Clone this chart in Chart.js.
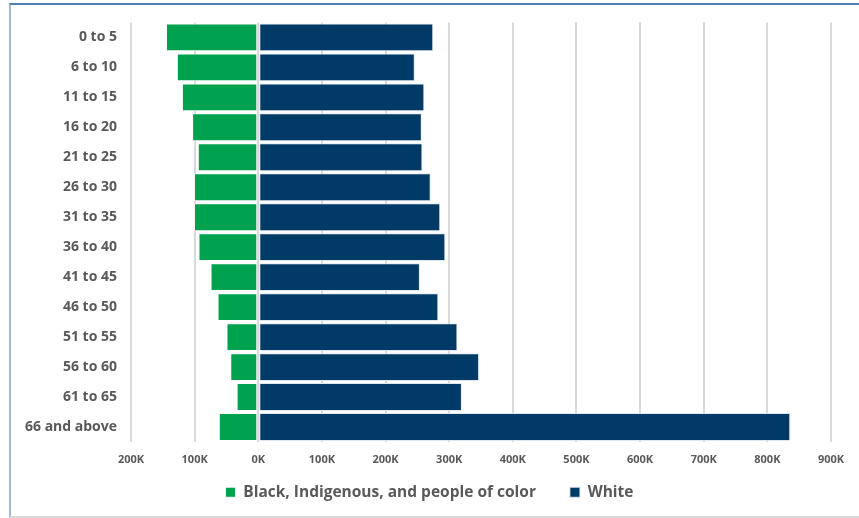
<!DOCTYPE html>
<html>
<head>
<meta charset="utf-8">
<script src="https://cdn.jsdelivr.net/npm/chart.js@4/dist/chart.umd.min.js"></script>
<style>
  html, body { margin: 0; padding: 0; background: #fff; }
  #wrap { position: relative; width: 859px; height: 518px; }
  #frame { position: absolute; left: 9px; top: 3px; width: 860px; height: 511px;
           border-top: 2px solid #4f7fb0; border-left: 2px solid #a9b9cc; border-bottom: 2px solid #d9d9d9; }
  canvas { position: absolute; left: 0; top: 0; }
</style>
</head>
<body>
<div id="wrap">
  <div id="frame"></div>
  <canvas id="c" width="859" height="518"></canvas>
</div>
<script>
const categories = ["0 to 5","6 to 10","11 to 15","16 to 20","21 to 25","26 to 30","31 to 35","36 to 40","41 to 45","46 to 50","51 to 55","56 to 60","61 to 65","66 and above"];
const bipocValues = [-145000,-128000,-120000,-104000,-95000,-101000,-101000,-94000,-75000,-64000,-50000,-44000,-34000,-62000];
const whiteValues = [275000,246000,261000,257000,258000,271000,286000,294000,254000,283000,313000,347000,320000,836000];
const seriesNames = ["Black, Indigenous, and people of color","White"];
const xMin = -200000, xMax = 900000, xStep = 100000;

const textColor = "#595959";
const fontFamily = "'Open Sans', Lato, sans-serif";

// Layout tweak: let x tick labels draw below a compact axis box, and nudge legend horizontally
const layoutTweak = {
  id: "layoutTweak",
  afterLayout(chart) {
    const xs = chart.scales.x;
    xs.bottom += 30;
    xs.height += 30;
    chart.legend.left += 9;
    chart.legend.right += 9;
  }
};

new Chart(document.getElementById("c"), {
  type: "bar",
  data: {
    labels: categories,
    datasets: [
      { label: seriesNames[0], data: bipocValues, backgroundColor: "#00A14F", borderColor: "rgba(255,255,255,0.85)", borderWidth: 1, borderSkipped: false },
      { label: seriesNames[1], data: whiteValues, backgroundColor: "#003A66", borderColor: "rgba(220,230,240,0.9)", borderWidth: 1, borderSkipped: false }
    ]
  },
  plugins: [layoutTweak],
  options: {
    indexAxis: "y",
    responsive: false,
    animation: false,
    devicePixelRatio: 1,
    layout: { padding: { left: 10, right: 28, top: 22, bottom: 8 } },
    datasets: { bar: { barPercentage: 0.93, categoryPercentage: 1 } },
    scales: {
      x: {
        stacked: true,
        min: xMin, max: xMax,
        border: { display: false },
        grid: { color: "#d9d9d9", lineWidth: 2, drawTicks: false },
        ticks: {
          stepSize: xStep, padding: 11, color: textColor,
          font: { family: fontFamily, size: 11, weight: "bold" },
          callback: v => (Math.abs(v) / 1000) + "K"
        },
        afterFit: s => { s.height = 8.5; }
      },
      y: {
        stacked: true,
        border: { display: false },
        grid: { display: false, drawTicks: false },
        ticks: { padding: 14, color: textColor, font: { family: fontFamily, size: 14, weight: "bold" } },
        afterFit: s => { s.width = 121; }
      }
    },
    plugins: {
      tooltip: { enabled: false },
      legend: {
        position: "bottom",
        labels: {
          boxWidth: 10, boxHeight: 10, padding: 34, color: textColor,
          font: { family: fontFamily, size: 15.5, weight: "bold" }
        }
      }
    }
  }
});
</script>
</body>
</html>
